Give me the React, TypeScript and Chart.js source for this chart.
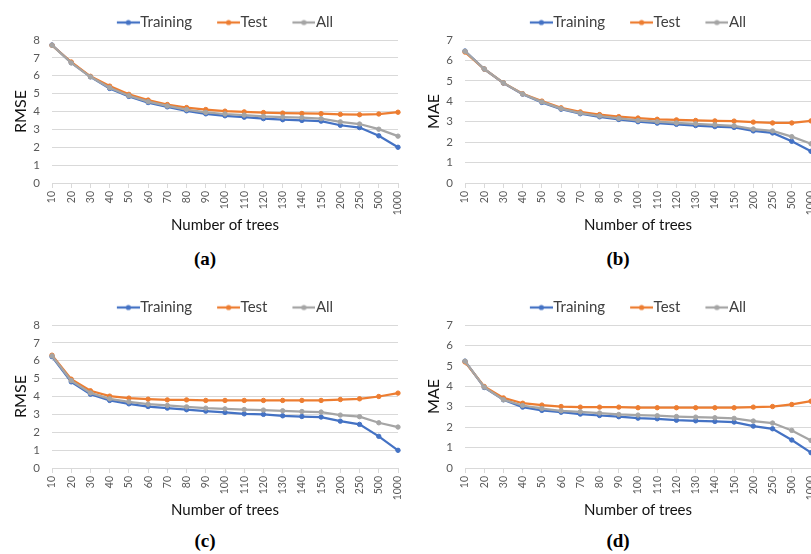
import React, { useEffect, useRef } from 'react';
import { Chart, registerables } from 'chart.js';

Chart.register(...registerables);

// ---------- data ----------
const categories = ['10', '20', '30', '40', '50', '60', '70', '80', '90', '100', '110', '120', '130', '140', '150', '200', '250', '500', '1000'];
const seriesNames = ['Training', 'Test', 'All'];
const seriesColors = ['#4472C4', '#ED7D31', '#A5A5A5'];

// (a) RMSE
const rmseTrainA = [7.72, 6.73, 5.94, 5.29, 4.84, 4.50, 4.26, 4.04, 3.87, 3.76, 3.68, 3.60, 3.54, 3.50, 3.46, 3.23, 3.10, 2.64, 2.00];
const rmseTestA = [7.70, 6.77, 5.97, 5.42, 4.96, 4.64, 4.39, 4.22, 4.11, 4.02, 3.98, 3.94, 3.91, 3.89, 3.88, 3.84, 3.82, 3.86, 3.96];
const rmseAllA = [7.71, 6.72, 5.94, 5.33, 4.88, 4.55, 4.31, 4.11, 3.95, 3.86, 3.80, 3.73, 3.69, 3.66, 3.60, 3.42, 3.30, 3.01, 2.62];

// (b) MAE
const maeTrainB = [6.46, 5.58, 4.89, 4.35, 3.94, 3.61, 3.39, 3.24, 3.11, 3.00, 2.93, 2.87, 2.81, 2.76, 2.72, 2.55, 2.45, 2.04, 1.55];
const maeTestB = [6.41, 5.58, 4.90, 4.37, 4.01, 3.68, 3.48, 3.35, 3.25, 3.18, 3.12, 3.09, 3.06, 3.04, 3.03, 2.98, 2.94, 2.94, 3.04];
const maeAllB = [6.45, 5.58, 4.90, 4.36, 3.97, 3.64, 3.42, 3.28, 3.16, 3.06, 3.00, 2.94, 2.90, 2.85, 2.80, 2.64, 2.55, 2.27, 1.92];

// (c) RMSE
const rmseTrainC = [6.23, 4.82, 4.13, 3.78, 3.59, 3.44, 3.35, 3.26, 3.18, 3.11, 3.03, 3.00, 2.92, 2.88, 2.85, 2.62, 2.44, 1.77, 0.99];
const rmseTestC = [6.31, 4.97, 4.32, 4.02, 3.91, 3.85, 3.81, 3.81, 3.78, 3.78, 3.78, 3.78, 3.78, 3.78, 3.78, 3.83, 3.87, 4.00, 4.19];
const rmseAllC = [6.27, 4.89, 4.20, 3.87, 3.70, 3.57, 3.50, 3.42, 3.35, 3.31, 3.27, 3.24, 3.20, 3.16, 3.13, 2.96, 2.87, 2.53, 2.29];

// (d) MAE
const maeTrainD = [5.23, 3.94, 3.34, 2.98, 2.82, 2.73, 2.64, 2.57, 2.51, 2.44, 2.41, 2.34, 2.31, 2.28, 2.25, 2.05, 1.92, 1.37, 0.75];
const maeTestD = [5.19, 3.99, 3.43, 3.17, 3.08, 3.01, 2.98, 2.98, 2.98, 2.95, 2.95, 2.95, 2.95, 2.95, 2.95, 2.98, 3.01, 3.11, 3.27];
const maeAllD = [5.23, 3.96, 3.34, 3.06, 2.91, 2.80, 2.75, 2.69, 2.62, 2.59, 2.56, 2.52, 2.49, 2.46, 2.43, 2.30, 2.20, 1.84, 1.35];

const xTitle = 'Number of trees';
const captions = ['(a)', '(b)', '(c)', '(d)'];

// ---------- drawing ----------
const FONT = 'Lato, "Open Sans", sans-serif';
const CW = 410;
const CH = 244;

function makeMarker(color: string) {
  const c = document.createElement('canvas');
  c.width = 30;
  c.height = 8;
  const ctx = c.getContext('2d')!;
  ctx.strokeStyle = color;
  ctx.lineWidth = 2.25;
  ctx.beginPath();
  ctx.moveTo(7, 4);
  ctx.lineTo(30, 4);
  ctx.stroke();
  ctx.fillStyle = color;
  ctx.beginPath();
  ctx.arc(18.5, 4, 2.6, 0, Math.PI * 2);
  ctx.fill();
  return c;
}

type PanelProps = {
  left: number;
  top: number;
  yTitle: string;
  yMax: number;
  series: number[][];
};

function Panel({ left, top, yTitle, yMax, series }: PanelProps) {
  const ref = useRef<HTMLCanvasElement>(null);
  useEffect(() => {
    if (!ref.current) return;
    const markers = seriesColors.map(makeMarker);
    const chart = new Chart(ref.current, {
      type: 'line',
      data: {
        labels: categories,
        datasets: series.map((d, i) => ({
          label: seriesNames[i],
          data: d,
          borderColor: seriesColors[i],
          backgroundColor: seriesColors[i],
          pointBackgroundColor: seriesColors[i],
          pointBorderColor: seriesColors[i],
          borderWidth: 2.25,
          pointRadius: 2.2,
          pointBorderWidth: 1,
          tension: 0,
          clip: false as any,
          order: 3 - i,
        })),
      },
      options: {
        responsive: false,
        animation: false,
        events: [],
        layout: { padding: { left: 0, right: 12, top: 0, bottom: 0 } },
        plugins: {
          tooltip: { enabled: false },
          legend: {
            display: true,
            position: 'top',
            fullSize: false,
            labels: {
              usePointStyle: true,
              pointStyleWidth: 16,
              padding: 25,
              color: '#404040',
              font: { family: FONT, size: 15 },
              sort: (a: any, b: any) => a.datasetIndex - b.datasetIndex,
              generateLabels: (ch: any) => {
                const items = (Chart.defaults.plugins.legend.labels as any).generateLabels(ch);
                return items.map((it: any) => ({ ...it, pointStyle: markers[it.datasetIndex] }));
              },
            },
          },
        },
        scales: {
          x: {
            type: 'category',
            offset: false,
            afterFit: (s: any) => {
              s.height = 51;
              s.paddingLeft = 0;
              s.paddingRight = 0;
            },
            grid: {
              display: true,
              drawOnChartArea: false,
              drawTicks: true,
              tickLength: 5,
              color: '#d9d9d9',
              offset: false,
            },
            border: { display: true, color: '#d9d9d9', width: 1 },
            ticks: {
              autoSkip: false,
              minRotation: 90,
              maxRotation: 90,
              padding: 3,
              color: '#595959',
              font: { family: FONT, size: 10.5 },
            },
            title: {
              display: true,
              text: xTitle,
              color: '#111',
              font: { family: FONT, size: 15 },
              padding: { top: 0, bottom: 0 },
            },
          },
          y: {
            min: 0,
            max: yMax,
            afterFit: (s: any) => { s.width = 52; },
            grid: { color: '#d9d9d9', drawTicks: false, lineWidth: 1 },
            border: { display: false },
            ticks: {
              stepSize: 1,
              padding: 12,
              color: '#595959',
              font: { family: FONT, size: 11.5 },
            },
            title: {
              display: true,
              text: yTitle,
              color: '#111',
              font: { family: FONT, size: 16 },
              padding: { top: 11.4, bottom: 0 },
            },
          },
        },
      } as any,
    });
    return () => chart.destroy();
  }, []);
  return (
    <canvas
      ref={ref}
      width={CW}
      height={CH}
      style={{ position: 'absolute', left, top, width: CW, height: CH }}
    />
  );
}

function Caption({ x, y, text }: { x: number; y: number; text: string }) {
  return (
    <div
      style={{
        position: 'absolute',
        left: x - 30,
        top: y - 11,
        width: 60,
        height: 22,
        lineHeight: '22px',
        textAlign: 'center',
        fontFamily: '"Liberation Serif", "DejaVu Serif", serif',
        fontWeight: 'bold',
        fontSize: 19,
        color: '#000',
      }}
    >
      {text}
    </div>
  );
}

export default function App() {
  return (
    <div
      style={{
        position: 'absolute',
        left: 0,
        top: 0,
        width: 811,
        height: 554,
        overflow: 'hidden',
        background: '#fff',
      }}
    >
      <Panel left={0} top={-10} yTitle="RMSE" yMax={8} series={[rmseTrainA, rmseTestA, rmseAllA]} />
      <Panel left={413} top={-10} yTitle="MAE" yMax={7} series={[maeTrainB, maeTestB, maeAllB]} />
      <Panel left={0} top={275} yTitle="RMSE" yMax={8} series={[rmseTrainC, rmseTestC, rmseAllC]} />
      <Panel left={413} top={275} yTitle="MAE" yMax={7} series={[maeTrainD, maeTestD, maeAllD]} />
      <Caption x={205} y={259} text={captions[0]} />
      <Caption x={618} y={259} text={captions[1]} />
      <Caption x={205} y={541} text={captions[2]} />
      <Caption x={618} y={541} text={captions[3]} />
    </div>
  );
}
